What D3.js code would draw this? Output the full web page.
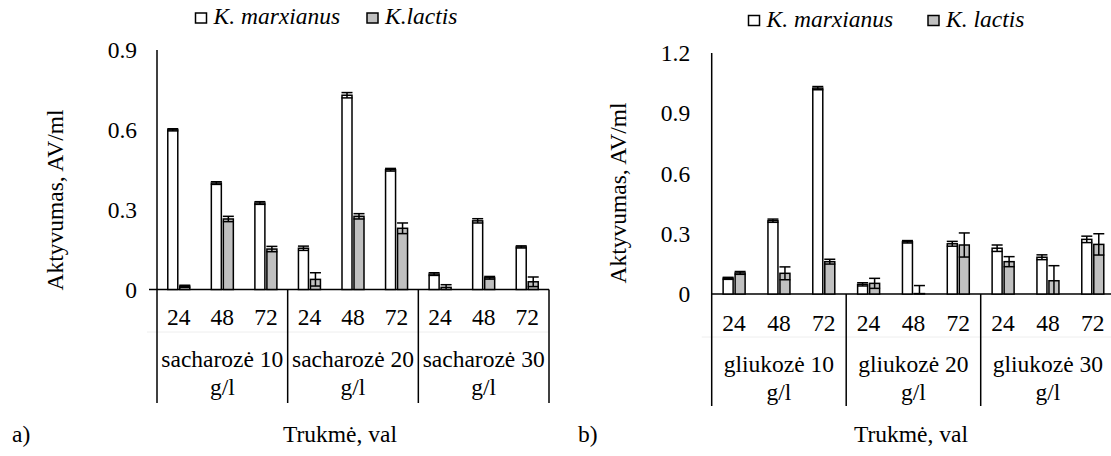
<!DOCTYPE html>
<html>
<head>
<meta charset="utf-8">
<script src="https://cdn.jsdelivr.net/npm/d3@7"></script>
<style>
  html, body { margin: 0; padding: 0; background: #fff; }
</style>
</head>
<body>
<svg id="chart" width="1111" height="456"></svg>
<script>
/* ── data ─────────────────────────────────────────────── */
const times = ['24', '48', '72'];

const sugarGroups   = [['sacharozė 10', 'g/l'], ['sacharozė 20', 'g/l'], ['sacharozė 30', 'g/l']];
const glucoseGroups = [['gliukozė 10', 'g/l'], ['gliukozė 20', 'g/l'], ['gliukozė 30', 'g/l']];

const ticksA = [0, 0.3, 0.6, 0.9];
const ticksB = [0, 0.3, 0.6, 0.9, 1.2];

const legendA = ['K. marxianus', 'K.lactis'];
const legendB = ['K. marxianus', 'K. lactis'];

// a) sucrose
const marxA      = [0.600, 0.400, 0.325, 0.155, 0.730, 0.450, 0.058, 0.258, 0.160];
const marxAErr   = [0.004, 0.005, 0.005, 0.008, 0.010, 0.005, 0.005, 0.008, 0.004];
const lactisA    = [0.012, 0.265, 0.152, 0.038, 0.275, 0.230, 0.008, 0.044, 0.029];
const lactisAErr = [0.004, 0.010, 0.010, 0.025, 0.010, 0.020, 0.010, 0.005, 0.018];

// b) glucose
const marxB      = [0.078, 0.365, 1.025, 0.048, 0.260, 0.250, 0.228, 0.183, 0.272];
const marxBErr   = [0.005, 0.008, 0.008, 0.008, 0.006, 0.012, 0.016, 0.012, 0.016];
const lactisB    = [0.105, 0.103, 0.161, 0.053, 0.002, 0.244, 0.161, 0.066, 0.247];
const lactisBErr = [0.007, 0.032, 0.012, 0.025, 0.040, 0.060, 0.025, 0.075, 0.053];

const fills = ['#ffffff', '#c0c0c0'];

/* ── drawing ──────────────────────────────────────────── */
const FS = 23.5;
const FONT = "'Liberation Serif'";
const svg = d3.select('#chart');

function txt(sel) {
  return sel.append('text')
    .style('font-family', FONT)
    .style('font-size', FS + 'px')
    .attr('fill', '#000');
}

function drawPanel(p) {
  const n = p.groups.length * times.length;
  const x = d3.scaleBand().domain(d3.range(n)).range([p.left, p.right]);
  const y = d3.scaleLinear().domain([0, p.max]).range([p.base, p.top]);
  const g = svg.append('g');

  // Value axis labels
  g.append('g')
    .attr('transform', `translate(${p.left},0)`)
    .call(d3.axisLeft(y).tickValues(p.ticks).tickSize(0).tickPadding(p.tickPad)
      .tickFormat(d => d === 0 ? '0' : d3.format('.1f')(d)))
    .call(a => a.select('.domain').remove())
    .selectAll('text')
    .style('font-family', FONT)
    .style('font-size', FS + 'px')
    .attr('fill', '#000');

  // Faint multi-level divider
  g.append('line')
    .attr('x1', p.left - 10).attr('x2', p.right)
    .attr('y1', p.base + p.faintDy).attr('y2', p.base + p.faintDy)
    .attr('stroke', '#eeeeee').attr('stroke-width', 1);

  // Axis lines
  g.append('line')
    .attr('x1', p.left).attr('x2', p.left)
    .attr('y1', p.top).attr('y2', p.axisBottom)
    .attr('stroke', '#000').attr('stroke-width', 1.5);
  g.append('line')
    .attr('x1', p.left - p.zeroTick).attr('x2', p.right)
    .attr('y1', p.base).attr('y2', p.base)
    .attr('stroke', '#000').attr('stroke-width', 1.5);

  // Group separators
  p.groups.forEach((grp, gi) => {
    const xs = gi === p.groups.length - 1 ? p.right : x((gi + 1) * times.length);
    g.append('line')
      .attr('x1', xs).attr('x2', xs)
      .attr('y1', p.base).attr('y2', p.axisBottom)
      .attr('stroke', '#000').attr('stroke-width', 1.5);
  });

  // Bars + error bars
  const series = [
    { vals: p.s1, errs: p.e1, fill: fills[0], off: -11 },
    { vals: p.s2, errs: p.e2, fill: fills[1], off: 1 }
  ];
  const bw = 10;
  series.forEach(s => {
    s.vals.forEach((v, i) => {
      const bx = x(i) + x.bandwidth() / 2 + s.off;
      const cx = bx + bw / 2;
      g.append('rect')
        .attr('x', bx).attr('y', y(v))
        .attr('width', bw).attr('height', y(0) - y(v))
        .attr('fill', s.fill)
        .attr('stroke', '#000').attr('stroke-width', 1.5);

      const lo = y(Math.max(0, v - s.errs[i]));
      const hi = y(v + s.errs[i]);
      g.append('line')
        .attr('x1', cx).attr('x2', cx).attr('y1', lo).attr('y2', hi)
        .attr('stroke', '#000').attr('stroke-width', 1.5);
      [hi, lo].forEach((yy, k) => {
        if (k === 1 && v - s.errs[i] < 0) return;
        g.append('line')
          .attr('x1', cx - 5.5).attr('x2', cx + 5.5)
          .attr('y1', yy).attr('y2', yy)
          .attr('stroke', '#000').attr('stroke-width', 1.5);
      });
    });
  });

  // Category labels
  d3.range(n).forEach(i => {
    txt(g)
      .attr('x', x(i) + x.bandwidth() / 2)
      .attr('y', p.base + p.catDy)
      .attr('text-anchor', 'middle')
      .text(times[i % times.length]);
  });

  // Group labels (two lines)
  p.groups.forEach((lines, gi) => {
    const cx = (x(gi * 3) + (gi === p.groups.length - 1 ? p.right : x(gi * 3 + 3))) / 2;
    lines.forEach((ln, li) => {
      txt(g)
        .attr('x', cx)
        .attr('y', p.base + (li === 0 ? p.grpDy1 : p.grpDy2))
        .attr('text-anchor', 'middle')
        .text(ln);
    });
  });

  // Y title
  txt(g)
    .attr('transform', `translate(${p.titleX},${p.titleY}) rotate(-90)`)
    .attr('text-anchor', 'middle')
    .text('Aktyvumas,  AV/ml');

  // X title
  txt(g)
    .attr('x', p.xTitleX).attr('y', p.xTitleY)
    .attr('text-anchor', 'middle')
    .text('Trukmė, val');

  // Panel letter
  txt(g)
    .attr('x', p.letterX).attr('y', p.xTitleY)
    .text(p.letter);

  // Legend
  p.legend.forEach((name, k) => {
    const lx = p.legendX[k];
    g.append('rect')
      .attr('x', lx).attr('y', p.legendY)
      .attr('width', 11).attr('height', 10)
      .attr('fill', fills[k])
      .attr('stroke', '#000').attr('stroke-width', 1.5);
    txt(g)
      .attr('x', lx + 18).attr('y', p.legendY + 11)
      .style('font-style', 'italic')
      .text(name);
  });
}

drawPanel({
  groups: sugarGroups, ticks: ticksA, max: 0.9,
  s1: marxA, e1: marxAErr, s2: lactisA, e2: lactisAErr,
  left: 157, right: 549, top: 50, base: 289.5, axisBottom: 403,
  tickPad: 20, zeroTick: 8, faintDy: 42.5,
  catDy: 35.5, grpDy1: 77, grpDy2: 105.5,
  titleX: 63, titleY: 200,
  xTitleX: 340, xTitleY: 442,
  letter: 'a)', letterX: 12,
  legend: legendA, legendX: [195.5, 367], legendY: 13
});

drawPanel({
  groups: glucoseGroups, ticks: ticksB, max: 1.2,
  s1: marxB, e1: marxBErr, s2: lactisB, e2: lactisBErr,
  left: 711.7, right: 1115.2, top: 53, base: 294, axisBottom: 406,
  tickPad: 21.5, zeroTick: 0, faintDy: 43,
  catDy: 36.7, grpDy1: 77.7, grpDy2: 106,
  titleX: 626, titleY: 193,
  xTitleX: 911, xTitleY: 442,
  letter: 'b)', letterX: 578,
  legend: legendB, legendX: [748.5, 928], legendY: 15.5
});
</script>
</body>
</html>
